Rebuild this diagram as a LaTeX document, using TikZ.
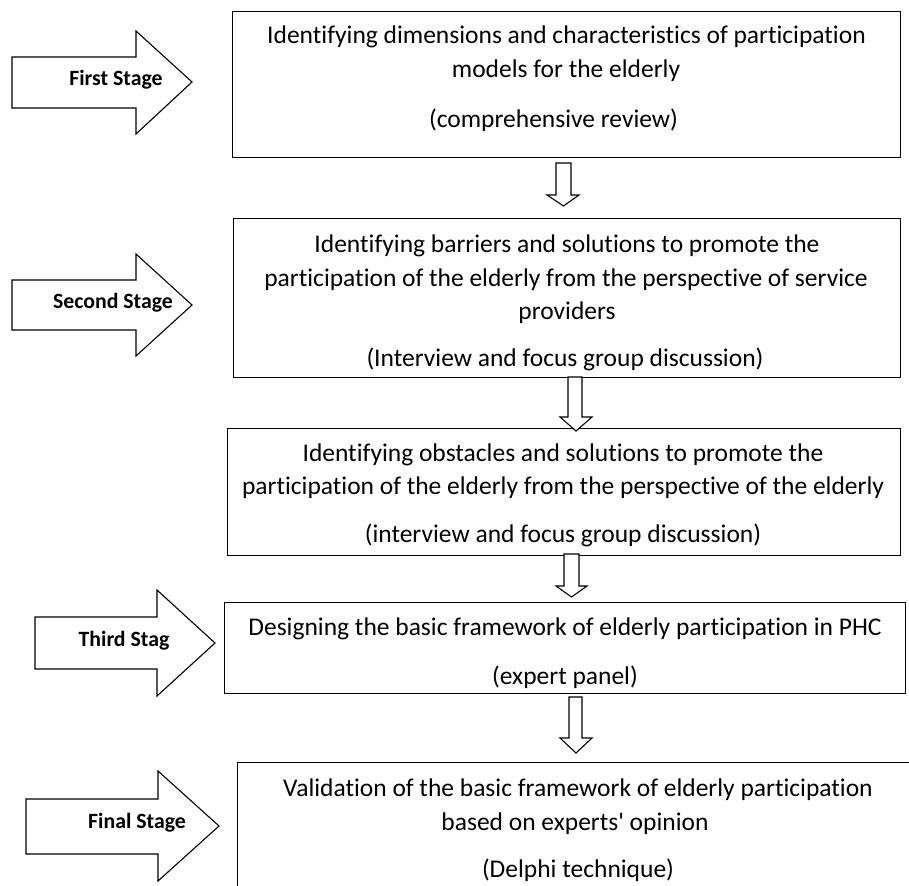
\documentclass[tikz,border=0pt]{standalone}
\usepackage{fontspec}
\setmainfont{Carlito}[Ligatures={ResetAll,NoCommon}]
\font\apfont="Carlito" at 25.5pt
\begin{document}
\begin{tikzpicture}[x=1pt,y=-1pt,
  box/.style={draw=black,line width=1.1pt,inner sep=0pt,anchor=north west},
  txt/.style={anchor=base,inner sep=0pt,font=\fontsize{25.5}{30}\selectfont},
  lbl/.style={anchor=base,inner sep=0pt,font=\fontsize{21.8}{26}\selectfont\bfseries},
  blk/.style={draw=black,line width=1.1pt,fill=white,line join=miter}]
\useasboundingbox (0,0) rectangle (909,885);
\clip (0,0) rectangle (909,885);
\fill[white] (0,0) rectangle (909,885);

% boxes
\node[box,minimum width=668pt,minimum height=146pt] (b1) at (232,11) {};
\node[box,minimum width=667pt,minimum height=159pt] (b2) at (233,218) {};
\node[box,minimum width=673pt,minimum height=127pt] (b3) at (227,428) {};
\node[box,minimum width=681pt,minimum height=91pt] (b4) at (224,602) {};
\node[box,minimum width=700pt,minimum height=160pt] (b5) at (237,762) {};

% box 1 text
\node[txt] (t11) at (566.5,44) {Identifying dimensions and characteristics of participation};
\node[txt] (t12) at (566,78) {models for the elderly};
\node[txt] (t13) at (553.5,128) {(comprehensive review)};
% box 2 text
\node[txt] (t21) at (567,252) {Identifying barriers and solutions to promote the};
\node[txt] (t22) at (566,286) {participation of the elderly from the perspective of service};
\node[txt] (t23) at (567,319) {providers};
\node[txt] (t24) at (565,366) {(Interview and focus group discussion)};
% box 3 text
\node[txt] (t31) at (563,461) {Identifying obstacles and solutions to promote the};
\node[txt] (t32) at (563,494) {participation of the elderly from the perspective of the elderly};
\node[txt] (t33) at (563,542) {(interview and focus group discussion)};
% box 4 text
\node[txt] (t41) at (565,635) {Designing the basic framework of elderly participation in PHC};
\node[txt] (t42) at (565,684) {(expert panel)};
% box 5 text
\node[txt] (t51) at (578,796) {Validation of the basic framework of elderly participation};
\node[txt] (t52) at (575,830) {based on experts{\apfont'} opinion};
\node[txt] (t53) at (578,877) {(Delphi technique)};

% down block arrows
\draw[blk] (556,163) -- (571,163) -- (571,195) -- (579,195) -- (563.5,206) -- (547,195) -- (556,195) -- cycle;
\draw[blk] (568,377) -- (582,377) -- (582,417) -- (592,417) -- (576,431) -- (560,417) -- (568,417) -- cycle;
\draw[blk] (564,554) -- (579,554) -- (579,586) -- (587,586) -- (571.5,597) -- (556,586) -- (564,586) -- cycle;
\draw[blk] (569,697) -- (582,697) -- (582,738) -- (592,738) -- (576,753) -- (560,738) -- (569,738) -- cycle;

% stage arrows
\draw[blk] (12,57) -- (136,57) -- (136,31) -- (192,82) -- (136,134) -- (136,108) -- (12,108) -- cycle;
\draw[blk] (12,280) -- (136,280) -- (136,254) -- (192,305) -- (136,356) -- (136,330) -- (12,330) -- cycle;
\draw[blk] (35,617) -- (157,617) -- (157,590) -- (215,643) -- (157,696) -- (157,669) -- (35,669) -- cycle;
\draw[blk] (26,799) -- (158,799) -- (158,771) -- (219,826) -- (158,881) -- (158,854) -- (26,854) -- cycle;

\node[lbl] (s1) at (116,86) {First Stage};
\node[lbl] (s2) at (113,308) {Second Stage};
\node[lbl] (s3) at (124,646) {Third Stag};
\node[lbl] (s4) at (137,828) {Final Stage};
\end{tikzpicture}
\end{document}
